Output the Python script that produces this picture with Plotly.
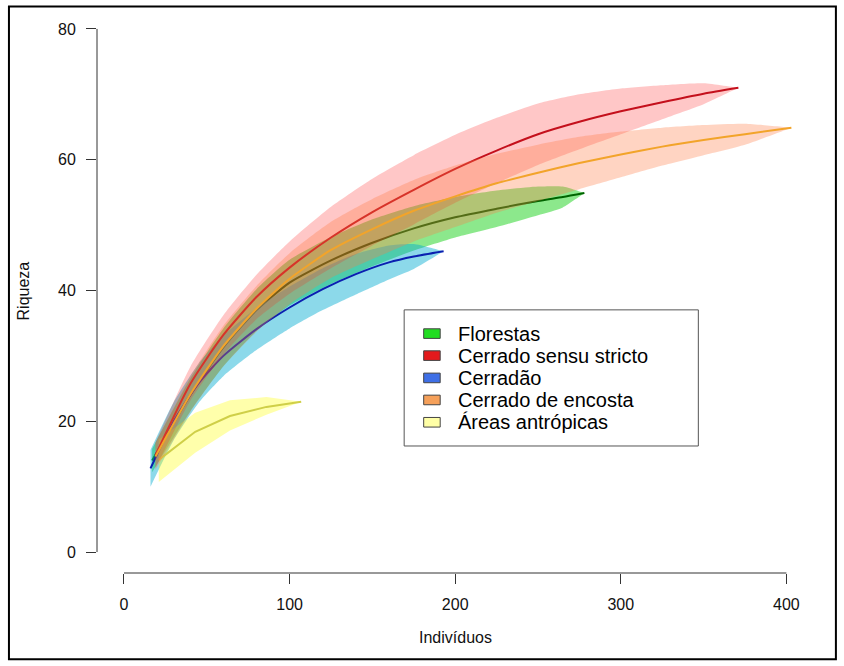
import plotly.graph_objects as go

# ---------------- data ----------------
series_names = ["Florestas", "Cerrado sensu stricto", "Cerradão",
                "Cerrado de encosta", "Áreas antrópicas"]

flor_x = [17, 40, 60, 80, 100, 125, 150, 175, 200, 225, 250, 265, 278]
flor_y = [14.0, 24.0, 31.3, 37.0, 41.2, 44.6, 47.3, 49.5, 51.2, 52.5, 53.7, 54.3, 54.9]
flor_up = [15.8, 26.5, 34.2, 40.2, 44.7, 48.2, 50.9, 52.9, 54.3, 55.3, 55.9, 55.9, 54.9]
flor_lo = [12.2, 21.5, 28.4, 33.8, 37.7, 41.0, 43.7, 46.1, 48.1, 49.7, 51.5, 52.7, 54.9]

css_x = [19, 40, 60, 80, 100, 125, 150, 175, 200, 225, 250, 275, 300, 325, 350, 371]
css_y = [14.8, 25.7, 33.2, 39.0, 43.5, 48.1, 52.0, 55.4, 58.6, 61.4, 63.9, 65.8, 67.4, 68.8, 70.1, 71.0]
css_up = [16.8, 28.3, 36.2, 42.4, 47.5, 52.8, 57.1, 60.7, 63.8, 66.4, 68.6, 70.0, 70.9, 71.4, 71.7, 71.0]
css_lo = [12.8, 23.1, 30.2, 35.6, 39.5, 43.4, 46.9, 50.1, 53.4, 56.4, 59.2, 61.6, 63.9, 66.2, 68.5, 71.0]

cdao_x = [16, 30, 45, 60, 80, 100, 120, 140, 160, 175, 193]
cdao_y = [12.8, 20.0, 25.8, 30.0, 34.1, 37.4, 40.2, 42.5, 44.3, 45.2, 46.0]
cdao_up = [15.6, 22.9, 28.8, 33.1, 37.3, 40.6, 43.4, 45.6, 46.9, 47.1, 46.0]
cdao_lo = [10.0, 17.1, 22.8, 26.9, 30.9, 34.2, 37.0, 39.4, 41.7, 43.3, 46.0]

enc_x = [19, 40, 60, 80, 100, 125, 150, 175, 200, 225, 250, 275, 300, 325, 350, 375, 403]
enc_y = [14.6, 24.1, 31.5, 37.2, 41.8, 46.2, 49.4, 52.2, 54.4, 56.4, 58.0, 59.5, 60.8, 62.0, 63.0, 63.9, 64.9]
enc_up = [16.6, 26.8, 34.6, 40.7, 45.7, 50.5, 54.0, 56.9, 59.1, 60.9, 62.3, 63.5, 64.3, 64.9, 65.3, 65.5, 64.9]
enc_lo = [12.6, 21.4, 28.4, 33.7, 37.9, 41.9, 44.8, 47.5, 49.7, 51.9, 53.7, 55.5, 57.3, 59.1, 60.7, 62.3, 64.9]

ant_x = [21, 43, 64, 86, 107]
ant_y = [14.1, 18.4, 20.8, 22.2, 23.0]
ant_up = [17.2, 21.3, 23.2, 23.7, 23.0]
ant_lo = [10.7, 15.2, 18.6, 21.0, 23.0]

x_ticks = [0, 100, 200, 300, 400]
y_ticks = [0, 20, 40, 60, 80]

# ---------------- styles ----------------
band_colors = {
    "Florestas": "rgba(0,205,0,0.45)",
    "Cerrado sensu stricto": "rgba(255,0,0,0.22)",
    "Cerradão": "rgba(0,170,208,0.45)",
    "Cerrado de encosta": "rgba(255,125,70,0.33)",
    "Áreas antrópicas": "rgba(255,255,0,0.33)",
}
line_colors = {
    "Florestas": "#006400",
    "Cerrado sensu stricto": "#c4101c",
    "Cerradão": "#0a1fb0",
    "Cerrado de encosta": "#f2a42a",
    "Áreas antrópicas": "#cfcf48",
}
legend_colors = {
    "Florestas": "#22dd22",
    "Cerrado sensu stricto": "#e31a1c",
    "Cerradão": "#3e6fe6",
    "Cerrado de encosta": "#f5a05a",
    "Áreas antrópicas": "#ffffa6",
}

data = {
    "Florestas": (flor_x, flor_y, flor_lo, flor_up, "spline"),
    "Cerradão": (cdao_x, cdao_y, cdao_lo, cdao_up, "spline"),
    "Áreas antrópicas": (ant_x, ant_y, ant_lo, ant_up, "linear"),
    "Cerrado sensu stricto": (css_x, css_y, css_lo, css_up, "spline"),
    "Cerrado de encosta": (enc_x, enc_y, enc_lo, enc_up, "spline"),
}
draw_order = ["Florestas", "Cerradão", "Áreas antrópicas",
              "Cerrado sensu stricto", "Cerrado de encosta"]

fig = go.Figure()
for name in draw_order:
    xs, ys, lo, up, shape = data[name]
    fig.add_trace(go.Scatter(
        x=list(xs) + list(xs[::-1]), y=list(up) + list(lo[::-1]),
        fill="toself", fillcolor=band_colors[name], mode="lines",
        line=dict(width=0, shape=shape, smoothing=0.6),
        hoverinfo="skip", showlegend=False, name=name + " IC"))
    fig.add_trace(go.Scatter(
        x=xs, y=ys, mode="lines", name=name, showlegend=False,
        line=dict(color=line_colors[name], width=2, shape=shape, smoothing=0.6)))

# ---------------- layout geometry (pixels) ----------------
W_PX, H_PX = 844, 666
L, R, T, B = 97, 824.6, 8.4, 572.9
xr = [-16.3, 423.3]
yr = [-3.2, 83.2]
PW, PH = R - L, B - T

def px_x(p):
    return (p - L) / PW

def px_y(p):
    return (B - p) / PH

def dx(v):
    return (v - xr[0]) / (xr[1] - xr[0])

def dy(v):
    return (v - yr[0]) / (yr[1] - yr[0])

FONT = "Liberation Sans, Arial, Helvetica, sans-serif"
axis_col = "#333333"

shapes = []
annotations = []
# detached R-style axis lines
shapes.append(dict(type="line", xref="paper", yref="paper",
                   x0=dx(x_ticks[0]), x1=dx(x_ticks[-1]), y0=0, y1=0,
                   line=dict(color=axis_col, width=1)))
shapes.append(dict(type="line", xref="paper", yref="paper",
                   x0=0, x1=0, y0=dy(y_ticks[0]), y1=dy(y_ticks[-1]),
                   line=dict(color=axis_col, width=1)))
# outer frame
shapes.append(dict(type="rect", xref="paper", yref="paper",
                   x0=px_x(9), x1=px_x(835.5), y0=px_y(659), y1=px_y(7),
                   line=dict(color="black", width=2), fillcolor="rgba(0,0,0,0)"))

# legend box
shapes.append(dict(type="rect", xref="paper", yref="paper",
                   x0=px_x(404), x1=px_x(698), y0=px_y(446), y1=px_y(310),
                   line=dict(color="#555555", width=1), fillcolor="white", layer="above"))
row_y = [333.7, 355.7, 378.0, 400.0, 422.3]
for name, yc in zip(series_names, row_y):
    shapes.append(dict(type="rect", xref="paper", yref="paper",
                       x0=px_x(423.5), x1=px_x(440), y0=px_y(yc + 4.8), y1=px_y(yc - 4.8),
                       line=dict(color="#444444", width=1),
                       fillcolor=legend_colors[name], layer="above"))
    annotations.append(dict(text=name, xref="paper", yref="paper",
                            x=px_x(456), y=px_y(yc), xanchor="left", yanchor="middle",
                            showarrow=False, font=dict(family=FONT, size=20, color="black")))

# axis titles
annotations.append(dict(text="Indivíduos", xref="paper", yref="paper",
                        x=dx(200), y=px_y(637), xanchor="center", yanchor="middle",
                        showarrow=False, font=dict(family=FONT, size=16, color="#111")))
annotations.append(dict(text="Riqueza", xref="paper", yref="paper",
                        x=px_x(24), y=dy(40), xanchor="center", yanchor="middle",
                        textangle=-90, showarrow=False,
                        font=dict(family=FONT, size=16, color="#111")))

fig.update_layout(
    width=W_PX, height=H_PX,
    margin=dict(l=L, r=W_PX - R, t=T, b=H_PX - B, pad=0),
    paper_bgcolor="white", plot_bgcolor="white",
    showlegend=False,
    shapes=shapes, annotations=annotations,
    xaxis=dict(range=xr, tickvals=x_ticks, ticktext=[str(v) for v in x_ticks],
               ticks="outside", ticklen=10, tickcolor=axis_col, tickwidth=1,
               showgrid=False, zeroline=False, showline=False,
               ticklabelstandoff=7,
               tickfont=dict(family=FONT, size=16, color="#111"), fixedrange=True),
    yaxis=dict(range=yr, tickvals=y_ticks, ticktext=[str(v) for v in y_ticks],
               ticks="outside", ticklen=10, tickcolor=axis_col, tickwidth=1,
               showgrid=False, zeroline=False, showline=False,
               ticklabelstandoff=7,
               tickfont=dict(family=FONT, size=16, color="#111"), fixedrange=True),
)

fig.write_html("out.html", config={"displayModeBar": False})
